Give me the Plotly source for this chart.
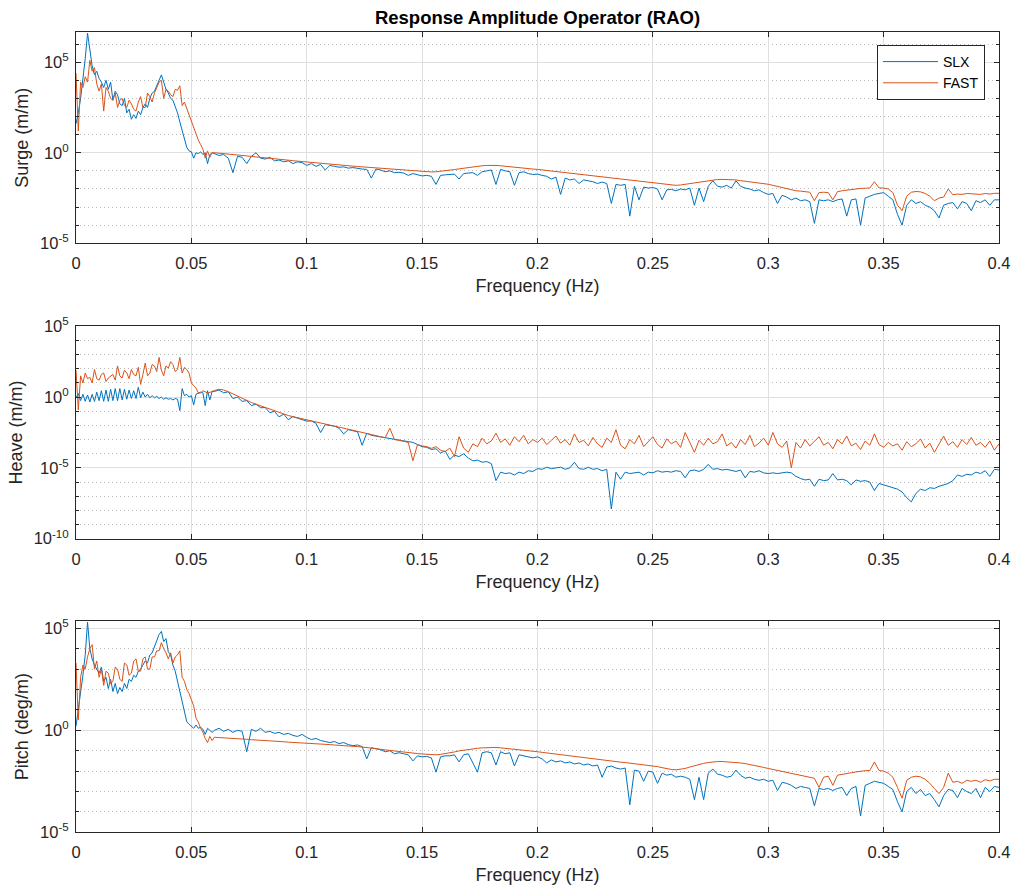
import numpy as np
import plotly.graph_objects as go

# ---------------- data (log10 of RAO amplitude) ----------------
# frequency grid (Hz): 0.001 Hz steps below 0.06 Hz, 0.002 Hz steps above
freq_low = np.round(np.arange(0.0, 0.0595, 0.001), 4)      # 60 bins
freq_high = np.round(np.arange(0.06, 0.4001, 0.002), 4)    # 171 bins
freq = np.concatenate([freq_low, freq_high])

surge_slx_low = [1.6, 2.2, 3.0, 4.0, 5.2, 6.6, 5.6, 4.8, 4.3, 4.5,
                 4.1, 3.9, 3.6, 4.0, 3.5, 3.9, 2.9, 3.4, 3.2, 2.7,
                 2.6, 3.0, 2.2, 2.4, 1.85, 2.1, 1.9, 2.3, 2.1, 2.5,
                 2.7, 2.5, 3.0, 3.3, 3.4, 3.7, 4.1, 4.3, 3.9, 3.5,
                 3.3, 3.0, 2.9, 2.6, 2.2, 1.7, 1.2, 0.8, 0.3, 0.1,
                 0.05, -0.3, 0.0, -0.05, 0.05, -0.1, 0.0, -0.6, -0.1, 0.0]
surge_slx_high = [-0.05, -0.15, -0.10, -0.30, -1.10, -0.20, -0.25, -0.60, -0.20, 0.00,
                  -0.30, -0.35, -0.25, -0.45, -0.40, -0.50, -0.45, -0.60, -0.50, -0.55,
                  -0.70, -0.60, -0.75, -0.65, -0.95, -0.70, -0.75, -0.80, -0.78, -0.85,
                  -0.82, -0.88, -0.90, -0.92, -1.40, -0.90, -0.95, -1.05, -1.00, -1.10,
                  -1.08, -1.12, -1.25, -1.15, -1.20, -1.28, -1.25, -1.30, -1.75, -1.25,
                  -1.22, -1.20, -1.18, -1.45, -1.15, -1.12, -1.10, -1.25, -1.05, -1.00,
                  -0.95, -1.75, -0.92, -1.00, -1.05, -1.80, -1.10, -1.05, -1.15, -1.20,
                  -1.18, -1.25, -1.30, -1.45, -1.35, -2.30, -1.40, -1.50, -1.45, -1.70,
                  -1.50, -1.55, -1.60, -1.70, -1.62, -1.70, -2.80, -1.75, -1.80, -1.75,
                  -3.50, -1.85, -2.60, -1.90, -1.95, -1.92, -2.00, -2.60, -2.05, -2.02,
                  -2.10, -2.00, -2.05, -1.95, -2.90, -1.95, -2.70, -1.85, -1.55, -1.85,
                  -1.90, -1.80, -1.95, -1.55, -1.85, -1.95, -2.00, -2.10, -2.05, -2.20,
                  -2.30, -2.25, -2.80, -2.35, -2.45, -2.60, -2.50, -2.65, -2.60, -2.70,
                  -3.90, -2.60, -2.65, -2.60, -2.70, -2.60, -2.55, -3.50, -2.60, -2.55,
                  -4.00, -2.50, -2.40, -2.30, -2.25, -2.20, -2.40, -2.60, -3.40, -4.00,
                  -2.90, -2.60, -2.80, -2.70, -2.90, -3.00, -3.20, -3.60, -2.90, -2.80,
                  -2.75, -3.10, -2.70, -2.80, -3.20, -2.65, -2.75, -2.60, -2.90, -2.60,
                  -2.60]

surge_fast_low = [4.4, 1.2, 3.9, 3.6, 4.2, 3.9, 5.1, 4.5, 4.7, 3.8,
                  3.4, 3.8, 2.3, 3.6, 3.4, 3.0, 2.9, 3.3, 2.5, 2.9,
                  3.0, 2.6, 2.5, 2.9, 2.7, 2.4, 2.3, 2.8, 3.1, 2.5,
                  2.5, 3.3, 3.1, 2.8, 3.3, 3.6, 3.9, 4.0, 3.0, 3.5,
                  3.4, 3.2, 3.1, 3.5, 3.45, 3.7, 2.6, 2.8, 2.45, 2.0,
                  1.7, 1.3, 1.0, 0.7, 0.45, 0.2, -0.3, 0.1, -0.25, 0.0]
surge_fast_high = [0.00, -0.02, -0.05, -0.07, -0.10, -0.12, -0.15, -0.18, -0.20, -0.23,
                   -0.25, -0.28, -0.30, -0.33, -0.36, -0.38, -0.41, -0.44, -0.46, -0.49,
                   -0.51, -0.54, -0.56, -0.59, -0.61, -0.64, -0.66, -0.68, -0.70, -0.72,
                   -0.74, -0.76, -0.78, -0.80, -0.82, -0.84, -0.86, -0.88, -0.90, -0.92,
                   -0.94, -0.96, -0.99, -1.01, -1.03, -1.04, -1.05, -1.06, -1.05, -1.03,
                   -1.00, -0.97, -0.93, -0.89, -0.85, -0.81, -0.78, -0.75, -0.72, -0.70,
                   -0.69, -0.70, -0.72, -0.75, -0.78, -0.80, -0.83, -0.85, -0.88, -0.90,
                   -0.92, -0.95, -0.98, -1.01, -1.04, -1.07, -1.10, -1.13, -1.16, -1.19,
                   -1.22, -1.25, -1.28, -1.31, -1.34, -1.37, -1.40, -1.43, -1.46, -1.49,
                   -1.52, -1.55, -1.58, -1.61, -1.64, -1.67, -1.71, -1.75, -1.78, -1.80,
                   -1.80, -1.78, -1.74, -1.70, -1.65, -1.60, -1.56, -1.52, -1.50, -1.48,
                   -1.47, -1.47, -1.48, -1.50, -1.54, -1.57, -1.61, -1.64, -1.67, -1.71,
                   -1.74, -1.80, -1.86, -1.92, -1.98, -2.05, -2.10, -2.12, -2.15, -2.18,
                   -2.65, -2.20, -2.18, -2.20, -2.60, -2.15, -2.10, -2.06, -2.02, -1.99,
                   -1.97, -1.96, -1.95, -1.60, -1.94, -1.95, -2.00, -2.20, -2.90, -3.20,
                   -2.40, -2.18, -2.14, -2.16, -2.25, -2.40, -2.65, -2.50, -2.45, -2.00,
                   -2.32, -2.28, -2.30, -2.25, -2.28, -2.27, -2.30, -2.25, -2.28, -2.24,
                   -2.24]

heave_slx_low = [-0.05, 0.25, -0.25, 0.2, -0.3, 0.15, -0.35, 0.2, -0.3, 0.35,
                 -0.25, 0.45, -0.3, 0.5, -0.3, 0.55, -0.25, 0.6, -0.25, 0.6,
                 -0.2, 0.55, -0.15, 0.5, -0.1, 0.45, -0.1, 0.7, -0.05, 0.35,
                 0.0, 0.2, -0.05, 0.1, -0.05, 0.05, -0.1, 0.0, -0.15, -0.05,
                 -0.15, -0.1, -0.2, -0.1, -0.15, -0.95, 0.6, 0.1, 0.2, 0.0,
                 0.1, -0.55, 0.2, 0.25, 0.35, 0.3, -0.6, 0.45, -0.2, 0.4]
heave_slx_high = [0.40, 0.50, 0.30, 0.38, -0.10, 0.00, -0.30, -0.25, -0.60, -0.50,
                  -0.75, -0.74, -1.10, -1.00, -1.40, -1.20, -1.60, -1.38, -1.50, -1.60,
                  -1.70, -1.68, -1.85, -2.50, -1.95, -2.00, -2.05, -2.20, -2.60, -2.30,
                  -2.40, -2.45, -3.40, -2.55, -2.70, -2.75, -2.85, -2.88, -2.95, -3.00,
                  -3.05, -3.10, -3.15, -3.20, -3.35, -3.50, -3.55, -3.70, -3.65, -3.95,
                  -3.80, -4.40, -4.10, -4.20, -4.00, -4.30, -4.50, -4.45, -4.60, -4.55,
                  -4.70, -5.90, -5.30, -5.40, -5.35, -5.50, -5.30, -5.40, -5.20, -5.25,
                  -5.05, -5.10, -4.95, -5.05, -5.00, -4.95, -5.10, -5.00, -4.60, -5.05,
                  -5.10, -4.95, -5.10, -5.05, -5.20, -5.10, -7.90, -5.30, -5.80, -5.30,
                  -5.40, -5.35, -5.30, -5.50, -5.30, -5.35, -5.20, -5.30, -5.25, -5.30,
                  -5.20, -5.25, -5.70, -5.20, -5.15, -5.25, -5.10, -4.75, -5.10, -5.05,
                  -5.15, -5.10, -5.20, -5.25, -5.15, -5.70, -5.25, -5.30, -5.20, -5.35,
                  -5.40, -5.35, -5.40, -5.35, -5.30, -5.35, -5.60, -5.75, -5.85, -5.80,
                  -6.30, -5.80, -5.90, -5.85, -5.40, -5.85, -5.80, -5.90, -6.20, -5.85,
                  -5.95, -5.90, -6.00, -6.60, -6.10, -6.20, -6.30, -6.40, -6.50, -6.70,
                  -7.10, -7.40, -6.80, -6.50, -6.60, -6.40, -6.45, -6.30, -6.20, -6.10,
                  -5.90, -5.50, -5.60, -5.45, -5.50, -5.30, -5.40, -5.20, -5.60, -5.10,
                  -5.15]

heave_fast_low = [1.9, -0.9, 1.5, 1.0, 1.7, 1.3, 1.4, 1.0, 1.95, 1.3,
                  1.2, 1.6, 1.7, 1.1, 1.35, 1.5, 1.6, 1.2, 2.2, 1.5,
                  1.35, 1.9, 1.7, 1.3, 1.95, 1.6, 1.5, 2.1, 0.9, 1.6,
                  2.4, 1.5, 1.7, 2.3, 2.2, 1.8, 2.8, 1.9, 1.5, 2.2,
                  2.05, 2.5, 2.3, 1.8, 1.95, 2.8, 1.7, 2.1, 1.95, 1.7,
                  1.0, 0.8, 0.64, 0.3, 0.28, 0.45, 0.4, 0.3, 0.33, 0.4]
heave_fast_high = [0.47, 0.55, 0.50, 0.38, 0.22, 0.05, -0.10, -0.25, -0.38, -0.50,
                   -0.62, -0.74, -0.86, -0.98, -1.10, -1.21, -1.30, -1.38, -1.46, -1.54,
                   -1.61, -1.68, -1.75, -1.82, -1.90, -1.97, -2.05, -2.12, -2.19, -2.26,
                   -2.32, -2.40, -2.48, -2.56, -2.64, -2.72, -2.80, -2.87, -2.20, -3.00,
                   -3.05, -3.12, -3.20, -4.50, -3.35, -3.45, -3.50, -3.62, -3.50, -3.75,
                   -3.85, -3.60, -4.20, -2.80, -3.60, -3.90, -3.30, -3.50, -2.90, -3.30,
                   -3.10, -2.55, -3.20, -2.95, -3.40, -2.80, -3.15, -2.70, -3.30, -3.00,
                   -3.20, -2.90, -3.35, -3.05, -2.75, -3.25, -3.00, -3.40, -2.60, -3.20,
                   -3.05, -3.45, -2.85, -3.30, -3.55, -2.90, -3.20, -2.30, -3.40, -3.65,
                   -3.00, -3.30, -2.70, -3.50, -3.15, -2.80, -3.35, -3.60, -2.95, -3.30,
                   -3.10, -3.55, -2.50, -3.25, -3.90, -3.05, -3.40, -2.90, -3.30, -3.15,
                   -2.60, -3.45, -3.20, -3.60, -3.00, -3.35, -2.70, -3.50, -3.25, -2.90,
                   -3.40, -2.50, -3.30, -3.55, -3.10, -5.00, -3.20, -3.60, -3.00, -3.45,
                   -3.15, -2.80, -3.40, -3.20, -3.65, -3.00, -3.30, -2.75, -3.45, -3.25,
                   -3.70, -3.10, -3.40, -2.60, -3.35, -3.55, -3.20, -3.45, -3.30, -3.75,
                   -3.15, -3.50, -3.30, -2.95, -3.60, -3.25, -3.90, -3.30, -2.75, -3.40,
                   -3.15, -3.55, -3.00, -3.35, -2.85, -3.40, -3.20, -3.55, -3.10, -3.75,
                   -3.30]

pitch_slx_low = [0.2, 1.0, 1.7, 2.7, 3.7, 5.3, 4.0, 3.5, 3.2, 3.0,
                 2.8, 3.1, 2.4, 2.6, 2.05, 2.5, 1.9, 2.3, 1.8, 2.1,
                 1.9, 2.3, 2.05, 2.5, 2.4, 2.7, 2.6, 2.9, 3.0, 3.2,
                 3.4, 3.3, 3.7, 3.8, 4.1, 4.3, 4.7, 4.85, 4.35, 4.5,
                 3.85, 3.7, 3.2, 2.9, 2.4, 1.9, 1.4, 0.9, 0.42, 0.3,
                 0.18, 0.1, 0.26, 0.1, 0.15, 0.05, -0.2, 0.1, 0.0, -0.1]
pitch_slx_high = [0.00, 0.10, -0.05, 0.05, -0.10, 0.00, -0.05, -1.05, 0.05, -0.05,
                  0.10, -0.10, -0.05, -0.15, -0.10, -0.20, -0.15, -0.25, -0.30, -0.20,
                  -0.35, -0.45, -0.40, -0.50, -0.55, -0.60, -0.55, -0.65, -0.60, -0.70,
                  -0.75, -0.72, -0.80, -1.40, -0.85, -0.90, -0.95, -1.05, -1.00, -1.15,
                  -1.10, -1.15, -1.20, -1.50, -1.25, -1.30, -1.28, -1.35, -2.05, -1.30,
                  -1.25, -1.25, -1.20, -1.55, -1.20, -1.15, -1.60, -2.05, -1.10, -1.05,
                  -1.10, -1.70, -1.05, -1.15, -1.10, -1.75, -1.20, -1.25, -1.30, -1.35,
                  -1.30, -1.40, -1.60, -1.45, -1.55, -1.50, -1.60, -1.55, -1.65, -1.60,
                  -1.70, -1.65, -1.75, -1.70, -2.30, -1.80, -1.75, -1.85, -1.90, -1.85,
                  -3.65, -1.95, -2.00, -2.50, -2.00, -2.05, -2.60, -2.10, -2.20, -2.15,
                  -2.30, -2.25, -2.30, -2.40, -3.40, -2.30, -3.40, -2.10, -1.90, -2.15,
                  -2.20, -2.30, -2.25, -1.95, -2.20, -2.35, -2.30, -2.40, -2.45, -2.40,
                  -2.50, -2.45, -2.95, -2.55, -2.60, -2.70, -2.85, -2.75, -2.80, -2.85,
                  -3.70, -2.85, -2.90, -2.85, -2.95, -2.85, -2.80, -3.20, -2.85, -2.75,
                  -4.20, -2.70, -2.60, -2.50, -2.55, -2.60, -2.75, -2.90, -3.50, -4.00,
                  -3.00, -2.80, -3.10, -2.90, -3.20, -3.10, -3.40, -3.75, -3.20, -2.90,
                  -2.95, -3.30, -2.85, -3.00, -3.10, -2.85, -3.30, -2.80, -3.00, -2.75,
                  -2.80]

pitch_fast_low = [3.3, 0.5, 2.6, 3.2, 3.0, 3.6, 4.0, 4.2, 3.0, 3.4,
                  2.6, 3.0, 2.2, 2.9, 2.8, 2.3, 2.4, 3.1, 3.0, 2.5,
                  2.4, 3.3, 3.2, 2.7, 2.8, 3.4, 3.5, 2.9, 2.9, 3.5,
                  3.6, 3.0, 3.0, 3.6, 3.6, 3.9, 3.9, 4.3, 4.0, 3.8,
                  3.5, 3.8, 3.3, 3.6, 3.7, 3.9, 2.6, 2.4, 2.0, 1.8,
                  1.5, 1.2, 0.6, 0.4, 0.1, -0.1, -0.4, -0.6, -0.3, -0.5]
pitch_fast_high = [-0.34, -0.35, -0.37, -0.38, -0.40, -0.41, -0.43, -0.44, -0.46, -0.47,
                   -0.49, -0.50, -0.52, -0.53, -0.55, -0.56, -0.58, -0.59, -0.61, -0.62,
                   -0.64, -0.65, -0.66, -0.67, -0.69, -0.70, -0.72, -0.73, -0.75, -0.77,
                   -0.79, -0.80, -0.82, -0.84, -0.87, -0.90, -0.93, -0.96, -0.99, -1.02,
                   -1.04, -1.07, -1.10, -1.12, -1.14, -1.16, -1.18, -1.19, -1.20, -1.18,
                   -1.15, -1.11, -1.06, -1.01, -0.97, -0.93, -0.90, -0.88, -0.86, -0.85,
                   -0.84, -0.84, -0.86, -0.88, -0.91, -0.93, -0.96, -0.98, -1.00, -1.03,
                   -1.05, -1.08, -1.11, -1.14, -1.17, -1.20, -1.23, -1.26, -1.29, -1.32,
                   -1.35, -1.38, -1.41, -1.43, -1.46, -1.49, -1.51, -1.54, -1.56, -1.58,
                   -1.61, -1.63, -1.66, -1.68, -1.71, -1.73, -1.78, -1.83, -1.88, -1.92,
                   -1.94, -1.92, -1.87, -1.80, -1.73, -1.67, -1.62, -1.58, -1.55, -1.53,
                   -1.53, -1.54, -1.56, -1.58, -1.60, -1.63, -1.67, -1.72, -1.77, -1.82,
                   -1.87, -1.92, -1.97, -2.02, -2.06, -2.10, -2.15, -2.20, -2.25, -2.30,
                   -2.35, -2.80, -2.30, -2.25, -2.70, -2.20, -2.15, -2.10, -2.08, -2.04,
                   -2.00, -1.98, -1.97, -1.55, -1.97, -2.00, -2.10, -2.30, -2.80, -3.33,
                   -2.45, -2.30, -2.25, -2.28, -2.40, -2.60, -2.85, -3.10, -2.80, -2.10,
                   -2.55, -2.50, -2.60, -2.45, -2.50, -2.45, -2.55, -2.42, -2.48, -2.40,
                   -2.40]

series_names = ["SLX", "FAST"]
series_colors = ["#0072BD", "#D95319"]
y_titles = ["Surge (m/m)", "Heave (m/m)", "Pitch (deg/m)"]
x_tick_vals = [0, 0.05, 0.1, 0.15, 0.2, 0.25, 0.3, 0.35, 0.4]
x_tick_text = ["0", "0.05", "0.1", "0.15", "0.2", "0.25", "0.3", "0.35", "0.4"]

panels = [
    (surge_slx_low + surge_slx_high, surge_fast_low + surge_fast_high),
    (heave_slx_low + heave_slx_high, heave_fast_low + heave_fast_high),
    (pitch_slx_low + pitch_slx_high, pitch_fast_low + pitch_fast_high),
]
for a, b in panels:
    assert len(a) == len(freq) and len(b) == len(freq), (len(a), len(b), len(freq))

# ---------------- layout ----------------
W, H = 1012, 886
X0, X1 = 76, 999
boxes = [(32.3, 243.3), (326.3, 538.7), (621.0, 832.3)]
y_ranges = [(-5, 6.65), (-10, 5), (-5, 5.36)]
y_major = [[-5, 0, 5], [-10, -5, 0, 5], [-5, 0, 5]]

TXT = "#262626"
FONT = "Liberation Sans, Arial, Helvetica, sans-serif"

fig = go.Figure()
for i, (slx, fast) in enumerate(panels):
    xa = "x" if i == 0 else f"x{i+1}"
    ya = "y" if i == 0 else f"y{i+1}"
    for name, col, vals in zip(series_names, series_colors, (slx, fast)):
        fig.add_trace(go.Scatter(
            x=freq, y=np.power(10.0, np.array(vals)), mode="lines", name=name,
            line=dict(color=col, width=1), xaxis=xa, yaxis=ya,
            showlegend=(i == 0), hoverinfo="skip"))

    t, b = boxes[i]
    lo, hi = y_ranges[i]
    major = y_major[i]
    minor_vals = [10.0 ** e for e in range(int(np.floor(lo)), int(np.ceil(hi)) + 1)
                  if e not in major and lo <= e <= hi]
    xkey = "xaxis" if i == 0 else f"xaxis{i+1}"
    ykey = "yaxis" if i == 0 else f"yaxis{i+1}"
    fig.update_layout({
        xkey: dict(
            domain=[X0 / W, X1 / W], anchor=ya, range=[0, 0.4], automargin=False,
            tickmode="array", tickvals=x_tick_vals, ticktext=x_tick_text,
            ticks="inside", ticklen=5, tickcolor=TXT, tickwidth=1,
            ticklabelstandoff=5,
            showline=True, linecolor=TXT, linewidth=1, mirror="ticks",
            showgrid=True, gridcolor="#dfdfdf", gridwidth=1, zeroline=False,
            tickfont=dict(size=16.5, color=TXT, family=FONT),
            title=dict(text="Frequency (Hz)", font=dict(size=18, color=TXT, family=FONT), standoff=8),
        ),
        ykey: dict(
            domain=[1 - b / H, 1 - t / H], anchor=xa, type="log", range=[lo, hi],
            automargin=False,
            tickmode="array", tickvals=[10.0 ** e for e in major],
            ticktext=[f"10<sup>{e}</sup>" for e in major],
            ticks="inside", ticklen=5, tickcolor=TXT, tickwidth=1,
            ticklabelstandoff=3,
            showline=True, linecolor=TXT, linewidth=1, mirror="ticks",
            showgrid=True, gridcolor="#dfdfdf", gridwidth=1, zeroline=False,
            minor=dict(tickmode="array", tickvals=minor_vals, ticks="inside", ticklen=3,
                       tickcolor=TXT, showgrid=True, gridcolor="#b8b8b8",
                       griddash="1px,3px", gridwidth=1),
            tickfont=dict(size=16.5, color=TXT, family=FONT),
            title=dict(text=y_titles[i], font=dict(size=18, color=TXT, family=FONT), standoff=6),
        ),
    })

fig.update_layout(
    width=W, height=H, autosize=False,
    margin=dict(l=0, r=0, t=0, b=0, autoexpand=False),
    paper_bgcolor="white", plot_bgcolor="white",
    font=dict(family=FONT, color=TXT),
    title=dict(text="<b>Response Amplitude Operator (RAO)</b>",
               x=(X0 + X1) / 2 / W, xanchor="center", y=1 - 18 / H, yanchor="middle",
               font=dict(size=18.5, color="black", family=FONT)),
    legend=dict(x=985 / W, xanchor="right", y=1 - 45 / H, yanchor="top",
                bgcolor="white", bordercolor=TXT, borderwidth=1,
                font=dict(size=14, color="black", family=FONT),
                itemwidth=55, tracegroupgap=0),
    hovermode=False,
)

fig.write_html("out.html")
